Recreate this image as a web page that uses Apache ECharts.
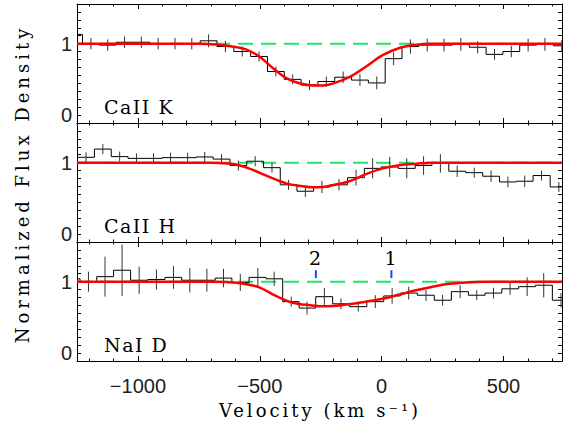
<!DOCTYPE html>
<html>
<head>
<meta charset="utf-8">
<script src="https://cdn.jsdelivr.net/npm/echarts@6/dist/echarts.min.js"></script>
<style>
  html, body { margin: 0; padding: 0; background: #fff; }
  #main { width: 564px; height: 431px; }
  /* wide Hershey-like letter spacing for the serif texts (svg renderer) */
  #main text[style*="DejaVu Serif"], #main text[font-family*="DejaVu Serif"] { letter-spacing: 4px; }
  #main text[style*="Times"], #main text[font-family*="Times"] { letter-spacing: 3px; }
  #main text[style*="Georgia"], #main text[font-family*="Georgia"] { letter-spacing: 1.5px; }
</style>
</head>
<body>
<div id="main"></div>
<script>
// axis ticks
const xMajor = [-1000, -500, 0, 500]
const xMinor = [-1200, -1100, -900, -800, -700, -600, -400, -300, -200, -100, 100, 200, 300, 400, 600, 700]

// CaII K
const kVel = [-1262, -1193, -1124, -1055, -986, -917, -848, -779, -710, -641, -572, -503, -434, -365, -296, -227, -158, -89, -20, 49, 118, 187, 256, 325, 394, 463, 532, 601, 670, 739]
const kFlux = [1.13, 1.00, 0.98, 1.02, 1.02, 1.00, 1.00, 1.00, 1.04, 0.96, 0.89, 0.82, 0.61, 0.50, 0.42, 0.47, 0.53, 0.49, 0.45, 0.79, 0.96, 0.98, 0.98, 0.99, 0.95, 0.85, 0.89, 0.98, 0.99, 0.97]
const kErr = [0.08, 0.08, 0.08, 0.08, 0.08, 0.08, 0.08, 0.08, 0.09, 0.08, 0.07, 0.07, 0.07, 0.07, 0.07, 0.07, 0.08, 0.08, 0.09, 0.09, 0.10, 0.09, 0.09, 0.09, 0.085, 0.075, 0.08, 0.09, 0.09, 0.08]
const kFitVel = [-1250, -750, -680, -620, -557, -502, -447, -393, -338, -283, -240, -201, -133, -64, 4, 73, 141, 209, 300, 740]
const kFit = [1, 1, 0.99, 0.965, 0.92, 0.82, 0.66, 0.52, 0.445, 0.415, 0.415, 0.44, 0.53, 0.68, 0.84, 0.94, 0.985, 1, 1, 1]

// CaII H
const hVel = [-1213, -1144, -1075, -1006, -936, -866, -796, -726, -657, -588, -519, -450, -382, -313, -245, -175, -105, -37, 33, 103, 172, 241, 310, 380, 449, 518, 587, 656, 727]
const hFlux = [1.075, 1.19, 1.085, 1.06, 1.06, 1.07, 1.07, 1.08, 1.05, 0.96, 1.02, 0.93, 0.69, 0.60, 0.66, 0.69, 0.79, 0.92, 0.94, 0.92, 0.96, 0.99, 0.88, 0.86, 0.81, 0.73, 0.74, 0.82, 0.66]
const hErr = [0.07, 0.07, 0.07, 0.07, 0.07, 0.07, 0.07, 0.07, 0.07, 0.07, 0.07, 0.07, 0.07, 0.08, 0.085, 0.08, 0.11, 0.14, 0.14, 0.14, 0.13, 0.13, 0.08, 0.07, 0.08, 0.075, 0.08, 0.07, 0.07]
const hFitVel = [-1250, -700, -666, -598, -529, -461, -392, -324, -283, -240, -201, -133, -64, 4, 73, 141, 210, 300, 740]
const hFit = [1, 1, 0.995, 0.975, 0.90, 0.80, 0.71, 0.67, 0.655, 0.66, 0.685, 0.74, 0.84, 0.92, 0.965, 0.985, 1, 1, 1]

// NaI D
const naVel = [-1272, -1203, -1135, -1065, -995, -924, -854, -787, -717, -649, -580, -508, -441, -371, -306, -235, -167, -96, -26, 43, 111, 182, 250, 322, 390, 459, 527, 597, 665, 736]
const naFlux = [1.04, 1.00, 1.07, 1.16, 1.02, 1.03, 1.06, 1.02, 1.02, 1.05, 0.99, 1.06, 1.04, 0.72, 0.63, 0.79, 0.69, 0.65, 0.72, 0.80, 0.84, 0.81, 0.74, 0.86, 0.81, 0.84, 0.90, 0.93, 0.95, 0.74]
const naErr = [0.14, 0.14, 0.28, 0.36, 0.19, 0.14, 0.16, 0.17, 0.16, 0.13, 0.12, 0.13, 0.10, 0.07, 0.09, 0.12, 0.075, 0.07, 0.09, 0.11, 0.09, 0.08, 0.075, 0.09, 0.07, 0.075, 0.085, 0.13, 0.17, 0.10]
const naFitVel = [-1250, -700, -639, -571, -502, -434, -365, -283, -256, -201, -133, -64, 4, 73, 141, 209, 278, 346, 420, 740]
const naFit = [1, 1, 0.995, 0.975, 0.92, 0.80, 0.705, 0.665, 0.655, 0.66, 0.685, 0.72, 0.76, 0.82, 0.88, 0.93, 0.97, 0.99, 1, 1]

// velocity components marked in the NaI panel
const compVel = [-270, 40]
const compLabel = ['2', '1']

const panelNames = ['CaII K', 'CaII H', 'NaI D']
const continuum = 1

const XMIN = -1250, XMAX = 740
const YMIN = -1 / 9, YMAX = 14 / 9
const tops = [4, 123, 242]
const panelH = 119

const panels = [
  { vel: kVel, flux: kFlux, err: kErr, fitVel: kFitVel, fit: kFit },
  { vel: hVel, flux: hFlux, err: hErr, fitVel: hFitVel, fit: hFit },
  { vel: naVel, flux: naFlux, err: naErr, fitVel: naFitVel, fit: naFit }
]

// histogram rows: [center, flux, err, leftEdge, rightEdge, previousFlux]
function histRows(vel, flux, err) {
  return vel.map((v, i) => {
    const lo = i > 0 ? (vel[i - 1] + v) / 2 : v - (vel[1] - vel[0]) / 2
    const hi = i < vel.length - 1 ? (v + vel[i + 1]) / 2 : v + (v - vel[i - 1]) / 2
    return [v, flux[i], err[i], lo, hi, i > 0 ? flux[i - 1] : flux[i]]
  })
}

function histItem(params, api) {
  const v = api.value(0), f = api.value(1), e = api.value(2)
  const lo = api.value(3), hi = api.value(4), prev = api.value(5)
  const a = api.coord([lo, f]), b = api.coord([hi, f]), p = api.coord([lo, prev])
  const t = api.coord([v, f + e]), u = api.coord([v, f - e])
  const black = { stroke: '#000', lineWidth: 1 }
  return {
    type: 'group',
    children: [
      { type: 'line', shape: { x1: p[0], y1: p[1], x2: a[0], y2: a[1] }, style: black },
      { type: 'line', shape: { x1: a[0], y1: a[1], x2: b[0], y2: b[1] }, style: black },
      { type: 'line', shape: { x1: t[0], y1: t[1], x2: u[0], y2: u[1] }, style: { stroke: '#333', lineWidth: 1 } }
    ]
  }
}

function compItem(params, api) {
  const v = api.value(0)
  const a = api.coord([v, 1.05]), b = api.coord([v, 1.16]), c = api.coord([v, 1.33])
  return {
    type: 'group',
    children: [
      { type: 'line', shape: { x1: a[0], y1: a[1], x2: b[0], y2: b[1] }, style: { stroke: '#2040ff', lineWidth: 2 } },
      { type: 'text', x: c[0], y: c[1], style: { text: compLabel[params.dataIndex], fontFamily: 'DejaVu Serif, Georgia', fontSize: 19, fill: '#000', align: 'center', verticalAlign: 'middle' } }
    ]
  }
}

const axisLineStyle = { color: '#000', width: 1 }
const tickFont = { fontFamily: 'Liberation Sans', fontSize: 20, color: '#222' }

const grid = [], xAxis = [], yAxis = [], series = []
tops.forEach((top, g) => {
  grid.push({ left: 77, right: 2, top: top, height: panelH })
  ;['bottom', 'top'].forEach(pos => {
    // major ticks (+ labels on the lowest panel)
    xAxis.push({
      gridIndex: g, type: 'value', min: XMIN, max: XMAX, position: pos,
      axisLine: { show: true, onZero: false, lineStyle: axisLineStyle },
      axisTick: { show: true, inside: true, length: 5, customValues: xMajor, lineStyle: axisLineStyle },
      axisLabel: {
        show: g === 2 && pos === 'bottom', customValues: xMajor, margin: 15, ...tickFont,
        formatter: v => (v < 0 ? '\u2212' + (-v) : String(v))
      },
      splitLine: { show: false }
    })
    // minor ticks
    xAxis.push({
      gridIndex: g, type: 'value', min: XMIN, max: XMAX, position: pos,
      axisLine: { show: false, onZero: false },
      axisTick: { show: true, inside: true, length: 2.5, customValues: xMinor, lineStyle: axisLineStyle },
      axisLabel: { show: false },
      splitLine: { show: false }
    })
  })
  ;['left', 'right'].forEach(pos => {
    yAxis.push({
      gridIndex: g, type: 'value', min: YMIN, max: YMAX, interval: 1 / 9, position: pos,
      axisLine: { show: true, onZero: false, lineStyle: axisLineStyle },
      axisTick: { show: true, inside: true, length: 4, lineStyle: axisLineStyle },
      axisLabel: {
        show: pos === 'left', margin: 5, ...tickFont, showMaxLabel: false,
        formatter: v => (Math.abs(v - 1) < 1e-6 ? '1' : Math.abs(v) < 1e-6 ? '0' : '')
      },
      splitLine: { show: false }
    })
  })

  const p = panels[g]
  const xi = g * 4, yi = g * 2
  series.push({
    type: 'line', xAxisIndex: xi, yAxisIndex: yi, z: 1,
    data: [[XMIN, continuum], [XMAX, continuum]],
    showSymbol: false, silent: true,
    lineStyle: { color: '#1ee66a', width: 2, type: [15, 8] }
  })
  series.push({
    type: 'custom', xAxisIndex: xi, yAxisIndex: yi, z: 2, clip: true,
    renderItem: histItem,
    data: histRows(p.vel, p.flux, p.err)
  })
  series.push({
    type: 'line', xAxisIndex: xi, yAxisIndex: yi, z: 3,
    data: p.fitVel.map((v, i) => [v, p.fit[i]]),
    smooth: 0.35, showSymbol: false,
    lineStyle: { color: '#ff0000', width: 2.5 }
  })
})

series.push({
  type: 'custom', xAxisIndex: 8, yAxisIndex: 4, z: 4,
  renderItem: compItem,
  data: compVel.map(v => [v, continuum])
})

const graphic = [
  {
    type: 'text', x: 22, y: 184, rotation: Math.PI / 2,
    style: { text: 'Normalized Flux Density', fontFamily: 'DejaVu Serif', fontSize: 18, fill: '#000', align: 'center', verticalAlign: 'middle' }
  },
  {
    type: 'text', x: 320, y: 410,
    style: { text: 'Velocity (km s\u207B\u00B9)', fontFamily: 'DejaVu Serif, Times', fontSize: 18, fill: '#000', align: 'center', verticalAlign: 'middle' }
  }
]
panelNames.forEach((name, g) => {
  graphic.push({
    type: 'text', x: 104, y: tops[g] + 102.5,
    style: { text: name, fontFamily: 'DejaVu Serif, Georgia', fontSize: 19, fill: '#000', align: 'left', verticalAlign: 'middle' }
  })
})

const chart = echarts.init(document.getElementById('main'), null, { renderer: 'svg' })
chart.setOption({
  animation: false,
  grid, xAxis, yAxis, series, graphic
})
</script>
</body>
</html>
